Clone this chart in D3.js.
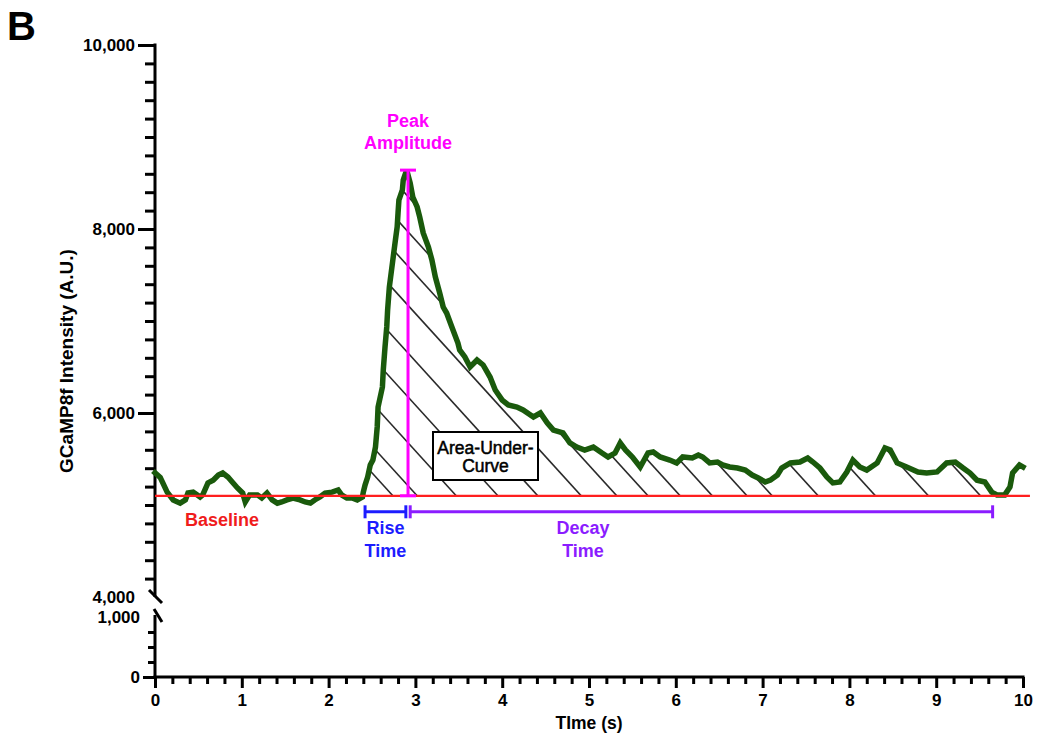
<!DOCTYPE html>
<html><head><meta charset="utf-8">
<script src="https://cdn.jsdelivr.net/npm/d3@7"></script>
<style>
body{margin:0;background:#fff;}
svg{display:block;font-family:"Liberation Sans",Arial,sans-serif;}
</style>
</head><body><svg id="c" width="1038" height="740"></svg>
<script>
// ---- data ----
const timeS = [0.00,0.06,0.09,0.14,0.21,0.29,0.35,0.38,0.44,0.52,0.55,0.61,0.67,0.73,0.78,0.84,0.89,0.95,1.01,1.04,1.09,1.18,1.23,1.29,1.35,1.41,1.46,1.52,1.59,1.67,1.73,1.79,1.84,1.90,1.96,2.04,2.11,2.15,2.21,2.27,2.33,2.39,2.40,2.42,2.45,2.48,2.51,2.54,2.56,2.57,2.62,2.63,2.65,2.67,2.68,2.70,2.74,2.77,2.79,2.80,2.81,2.85,2.86,2.88,2.90,2.94,2.97,3.02,3.05,3.09,3.15,3.19,3.23,3.28,3.32,3.36,3.42,3.49,3.51,3.57,3.63,3.71,3.78,3.86,3.92,4.00,4.07,4.17,4.24,4.36,4.44,4.52,4.59,4.70,4.78,4.86,4.95,5.05,5.15,5.22,5.30,5.36,5.42,5.50,5.59,5.68,5.74,5.82,5.93,6.01,6.08,6.19,6.26,6.31,6.39,6.48,6.54,6.62,6.71,6.80,6.88,6.95,7.03,7.09,7.17,7.22,7.32,7.43,7.52,7.58,7.66,7.74,7.81,7.89,7.97,8.04,8.12,8.20,8.32,8.41,8.47,8.55,8.66,8.79,8.89,9.01,9.12,9.22,9.31,9.39,9.47,9.56,9.64,9.70,9.79,9.85,9.88,9.96,10.00];
const intensity = [5350,5300,5240,5140,5055,5020,5055,5130,5140,5087,5110,5240,5270,5326,5348,5304,5250,5185,5130,5033,5110,5110,5076,5130,5055,5020,5033,5055,5076,5055,5033,5020,5055,5087,5130,5140,5163,5110,5076,5076,5055,5087,5140,5217,5304,5435,5489,5630,5848,6065,6283,6467,6717,6935,7120,7370,7663,7881,8022,8174,8315,8424,8533,8587,8640,8500,8348,8239,8130,7957,7804,7663,7478,7304,7152,7087,6935,6761,6685,6609,6500,6576,6522,6391,6250,6141,6087,6065,6033,5957,6000,5891,5815,5783,5674,5630,5598,5630,5565,5522,5565,5674,5598,5522,5413,5565,5576,5522,5489,5457,5522,5511,5544,5522,5457,5467,5435,5413,5402,5380,5326,5294,5250,5270,5326,5402,5457,5467,5511,5467,5402,5304,5240,5250,5359,5489,5413,5380,5457,5620,5598,5457,5413,5359,5348,5359,5457,5467,5402,5348,5270,5250,5140,5110,5110,5196,5348,5435,5413];
const baselineValue = 5100;
const peakTime = 2.915, peakValue = 8640;
const riseStart = 2.42, riseEnd = 2.89;
const decayStart = 2.94, decayEnd = 9.65;
const aucStart = 2.35, aucEnd = 9.75;
const hatchTimes = [2.74,3.02,3.47,3.95,4.41,4.91,5.32,5.68,6.05,6.42,6.82,7.11,7.64,8.30,8.91,9.51];
const xTicks = [0,1,2,3,4,5,6,7,8,9,10];
const yTopMajor = [4000,6000,8000,10000];
const yBottomMajor = [0,1000];
const xTitle = "TIme (s)";
const yTitle = "GCaMP8f Intensity (A.U.)";

const svg = d3.select("#c");
const x = d3.scaleLinear().domain([0,10]).range([155,1023]);
const yTop = d3.scaleLinear().domain([4000,10000]).range([597,45]);
const yBot = d3.scaleLinear().domain([0,1000]).range([677,617]);
const data = timeS.map((t,i)=>({t, v:intensity[i]}));
const yB = yTop(baselineValue);

// panel letter
svg.append("text").attr("x",7).attr("y",40).attr("font-size",40).attr("font-weight","bold").text("B");

// ---- axes ----
const fmt = d3.format(",");
function styleAxis(g){
  g.select(".domain").remove();
  g.selectAll(".tick line").attr("stroke","#000").attr("stroke-width",3);
  g.selectAll(".tick text").attr("font-size",17).attr("font-weight","bold").attr("fill","#000")
   .attr("font-family","Liberation Sans, Arial, sans-serif");
}
// top y segment
const gTopMin = svg.append("g").attr("transform","translate(155,0)")
  .call(d3.axisLeft(yTop).tickValues(d3.range(4200,10000,200).filter(v=>v%2000!==0)).tickSize(10).tickFormat(""));
styleAxis(gTopMin);
const gTopMaj = svg.append("g").attr("transform","translate(155,0)")
  .call(d3.axisLeft(yTop).tickValues(yTopMajor).tickSize(17).tickPadding(3).tickFormat(fmt));
styleAxis(gTopMaj);
gTopMaj.selectAll(".tick").filter(d=>d===4000).select("line").remove();
// bottom y segment
const gBotMin = svg.append("g").attr("transform","translate(155,0)")
  .call(d3.axisLeft(yBot).tickValues([250,500,750]).tickSize(7).tickFormat(""));
styleAxis(gBotMin);
const gBotMaj = svg.append("g").attr("transform","translate(155,0)")
  .call(d3.axisLeft(yBot).tickValues(yBottomMajor).tickSize(12).tickPadding(3).tickFormat(fmt));
styleAxis(gBotMaj);
gBotMaj.selectAll(".tick").filter(d=>d===1000).select("line").remove();
// x axis
const gXMin = svg.append("g").attr("transform","translate(0,677)")
  .call(d3.axisBottom(x).tickValues(d3.range(1,50).map(i=>i*0.2).filter(v=>Math.abs(v-Math.round(v))>1e-6)).tickSize(7).tickFormat(""));
styleAxis(gXMin);
const gXMaj = svg.append("g").attr("transform","translate(0,677)")
  .call(d3.axisBottom(x).tickValues(xTicks).tickSize(11).tickPadding(6).tickFormat(d3.format("d")));
styleAxis(gXMaj);

// axis lines with break
const ax = svg.append("g").attr("stroke","#000").attr("stroke-width",3).attr("fill","none");
ax.append("line").attr("x1",155).attr("x2",155).attr("y1",yTop(10000)-1.5).attr("y2",yTop(4000));
ax.append("line").attr("x1",149).attr("x2",162).attr("y1",yTop(4000)-7).attr("y2",yTop(4000)+6);
ax.append("line").attr("x1",155).attr("x2",155).attr("y1",yBot(1000)-2).attr("y2",yBot(0)+1.5);
ax.append("line").attr("x1",154).attr("x2",162).attr("y1",yBot(1000)-8).attr("y2",yBot(1000)+5);
ax.append("line").attr("x1",153.5).attr("x2",x(10)+1.5).attr("y1",yBot(0)).attr("y2",yBot(0));

// axis titles
svg.append("text").attr("transform",`translate(73,${(yTop(10000)+yBot(0))/2}) rotate(-90)`)
  .attr("text-anchor","middle").attr("font-size",19).attr("font-weight","bold").text(yTitle);
svg.append("text").attr("x",(x(0)+x(10))/2).attr("y",729).attr("text-anchor","middle")
  .attr("font-size",17.5).attr("font-weight","bold").text(xTitle);

// ---- hatched area under curve ----
const aucData = data.filter(d=>d.t>=aucStart && d.t<=aucEnd);
const area = d3.area().x(d=>x(d.t)).y0(yB).y1(d=>yTop(d.v));
svg.append("clipPath").attr("id","aucClip").append("path").attr("d",area(aucData));
const hatch = svg.append("g").attr("clip-path","url(#aucClip)");
hatch.selectAll("line").data(hatchTimes).join("line")
  .attr("x1",d=>x(d)).attr("y1",yB)
  .attr("x2",d=>x(d)-400).attr("y2",yB-440)
  .attr("stroke","#2a2a2a").attr("stroke-width",1.6);

// AUC label box
svg.append("rect").attr("x",433).attr("y",432).attr("width",105).attr("height",48)
  .attr("fill","#fff").attr("stroke","#000").attr("stroke-width",2);
const aucT = svg.append("text").attr("text-anchor","middle").attr("font-size",17.5)
  .attr("fill","#000").attr("stroke","#000").attr("stroke-width",0.5);
aucT.append("tspan").attr("x",485.5).attr("y",454).text("Area-Under-");
aucT.append("tspan").attr("x",485.5).attr("y",472).text("Curve");

// ---- trace ----
const line = d3.line().x(d=>x(d.t)).y(d=>yTop(d.v));
svg.append("path").attr("d",line(data)).attr("fill","none")
  .attr("stroke","#1a5a0c").attr("stroke-width",5.5).attr("stroke-linejoin","miter").attr("stroke-miterlimit",3).attr("stroke-linecap","square");

// baseline
svg.append("line").attr("x1",x(0)).attr("x2",x(10.08)).attr("y1",yB).attr("y2",yB)
  .attr("stroke","#ff1f1f").attr("stroke-width",2.2);
svg.append("text").attr("x",222).attr("y",526).attr("text-anchor","middle").attr("font-size",18)
  .attr("font-weight","bold").attr("fill","#f01c1c").text("Baseline");

// peak amplitude
const mag = "#ff00ff";
const px = x(peakTime);
const pk = svg.append("g").attr("stroke",mag).attr("stroke-width",3);
pk.append("line").attr("x1",px).attr("x2",px).attr("y1",yB).attr("y2",yTop(peakValue));
pk.append("line").attr("x1",px-8).attr("x2",px+8).attr("y1",yTop(peakValue)).attr("y2",yTop(peakValue));
pk.append("line").attr("x1",px-8).attr("x2",px+8).attr("y1",yB).attr("y2",yB);
const pt = svg.append("text").attr("text-anchor","middle").attr("font-size",18).attr("font-weight","bold").attr("fill",mag);
pt.append("tspan").attr("x",px).attr("y",127).text("Peak");
pt.append("tspan").attr("x",px).attr("y",149).text("Amplitude");

// rise & decay brackets
function bracket(t0,t1,color){
  const yy = yB+16;
  const g = svg.append("g").attr("stroke",color).attr("stroke-width",3);
  g.append("line").attr("x1",x(t0)).attr("x2",x(t1)).attr("y1",yy).attr("y2",yy);
  g.append("line").attr("x1",x(t0)).attr("x2",x(t0)).attr("y1",yy-6.5).attr("y2",yy+6.5);
  g.append("line").attr("x1",x(t1)).attr("x2",x(t1)).attr("y1",yy-6.5).attr("y2",yy+6.5);
}
bracket(riseStart,riseEnd,"#1c1cff");
bracket(decayStart,decayEnd,"#8b1cff");
const rt = svg.append("text").attr("text-anchor","middle").attr("font-size",18).attr("font-weight","bold").attr("fill","#1c1cff");
rt.append("tspan").attr("x",(x(riseStart)+x(riseEnd))/2).attr("y",534).text("Rise");
rt.append("tspan").attr("x",(x(riseStart)+x(riseEnd))/2).attr("y",557).text("Time");
const dt = svg.append("text").attr("text-anchor","middle").attr("font-size",18).attr("font-weight","bold").attr("fill","#8b1cff");
dt.append("tspan").attr("x",583).attr("y",534).text("Decay");
dt.append("tspan").attr("x",583).attr("y",557).text("Time");
</script>
</body></html>
